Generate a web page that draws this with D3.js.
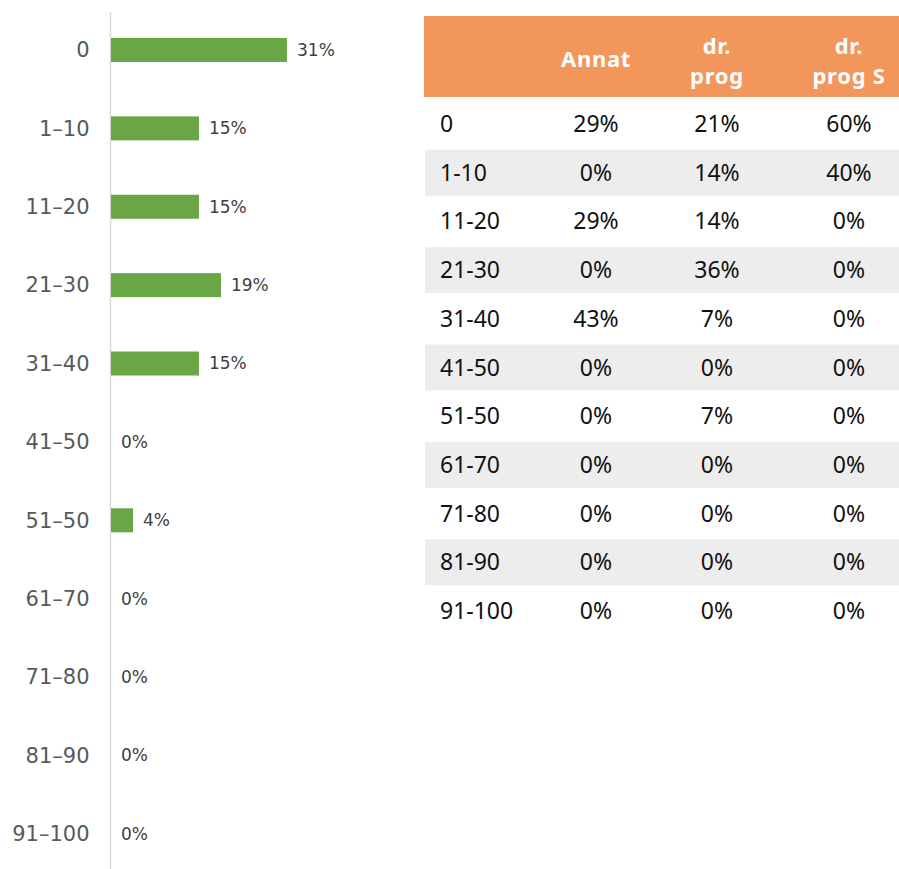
<!DOCTYPE html>
<html>
<head>
<meta charset="utf-8">
<script src="https://cdn.jsdelivr.net/npm/d3@7"></script>
<style>
  body { margin: 0; background: white; }
</style>
</head>
<body>
<div id="chart"></div>
<script>
const w = 899;
const h = 869;

// bar chart data (share of all, %)
const categories = ['0', '1–10', '11–20', '21–30', '31–40', '41–50', '51–50', '61–70', '71–80', '81–90', '91–100'];
const barValues = [30.77, 15.38, 15.38, 19.23, 15.38, 0, 3.85, 0, 0, 0, 0];

// table data (%)
const rowLabels = ['0', '1-10', '11-20', '21-30', '31-40', '41-50', '51-50', '61-70', '71-80', '81-90', '91-100'];
const columns = ['Annat', 'dr. prog', 'dr. prog S'];
const annat = [29, 0, 29, 0, 43, 0, 0, 0, 0, 0, 0];
const drProg = [21, 14, 14, 36, 7, 0, 7, 0, 0, 0, 0];
const drProgS = [60, 40, 0, 0, 0, 0, 0, 0, 0, 0, 0];
const headerLines = [['Annat'], ['dr.', 'prog'], ['dr.', 'prog S']];

const svg = d3.select('#chart')
  .append('svg')
  .attr('width', w)
  .attr('height', h)
  .style('background-color', 'white');

// ---- bar chart ----
const yScale = d3.scalePoint().domain(categories).range([10.8, 873]).padding(0.5);
const xScale = d3.scaleLinear().domain([0, 100]).range([111, 683]);
const barH = 24;
const chartFont = '"DejaVu Sans", sans-serif';

svg.append('line')
  .attr('x1', 110.5).attr('x2', 110.5)
  .attr('y1', 12).attr('y2', h)
  .attr('stroke', '#d9d9d9')
  .attr('stroke-width', 1.5);

const yAxis = d3.axisLeft(yScale).tickSize(0).tickPadding(21);
svg.append('g')
  .attr('transform', 'translate(110.5, 0)')
  .call(yAxis)
  .call(g => g.select('.domain').remove())
  .selectAll('text')
  .attr('font-family', chartFont)
  .attr('font-size', '21px')
  .attr('fill', '#595959');

const barData = categories.map((c, i) => ({cat: c, v: barValues[i]}));

svg.selectAll('.bar')
  .data(barData.filter(d => d.v > 0))
  .enter()
  .append('rect')
  .attr('class', 'bar')
  .attr('x', xScale(0))
  .attr('y', d => yScale(d.cat) - barH / 2)
  .attr('width', d => xScale(d.v) - xScale(0))
  .attr('height', barH)
  .attr('fill', '#6aa646');

svg.selectAll('.bar-label')
  .data(barData)
  .enter()
  .append('text')
  .attr('class', 'bar-label')
  .attr('x', d => xScale(d.v) + 10)
  .attr('y', d => yScale(d.cat))
  .attr('dy', '0.35em')
  .text(d => Math.round(d.v) + '%')
  .attr('font-family', chartFont)
  .attr('font-size', '17px')
  .attr('fill', '#404040');

// ---- table ----
const tableLeft = 424;
const rowY = d3.scalePoint().domain(rowLabels).range([99.65, 635.35]).padding(0.5);
const colX = d3.scaleOrdinal().domain(columns).range([596, 717, 849]);
const tableFont = '"Noto Sans", "Open Sans", sans-serif';

svg.append('rect')
  .attr('x', tableLeft)
  .attr('y', 16)
  .attr('width', w - tableLeft)
  .attr('height', 81)
  .attr('fill', '#f3965c');

// header: one text per line so the lines stay apart
columns.forEach((col, i) => {
  const lines = headerLines[i];
  svg.selectAll('.head-' + i)
    .data(lines)
    .enter()
    .append('text')
    .attr('class', 'head-' + i)
    .attr('x', colX(col))
    .attr('y', (d, j) => lines.length === 1 ? 67 : 54 + j * 30)
    .attr('text-anchor', 'middle')
    .text(d => d)
    .attr('font-family', tableFont)
    .attr('font-weight', 'bold')
    .attr('font-size', '22px')
    .attr('letter-spacing', '0.7px')
    .attr('fill', 'white');
});

svg.selectAll('.stripe')
  .data(rowLabels.filter((d, i) => i % 2 === 1))
  .enter()
  .append('rect')
  .attr('class', 'stripe')
  .attr('x', tableLeft + 1)
  .attr('y', d => rowY(d) - 23)
  .attr('width', w - tableLeft - 1)
  .attr('height', 46)
  .attr('fill', '#ededed');

svg.selectAll('.row-label')
  .data(rowLabels)
  .enter()
  .append('text')
  .attr('class', 'row-label')
  .attr('x', 440)
  .attr('y', d => rowY(d))
  .attr('dy', '0.35em')
  .text(d => d)
  .attr('font-family', tableFont)
  .attr('font-size', '23px')
  .attr('fill', '#111');

const series = [annat, drProg, drProgS];
columns.forEach((col, ci) => {
  svg.selectAll('.cell-' + ci)
    .data(rowLabels.map((r, i) => ({r: r, v: series[ci][i]})))
    .enter()
    .append('text')
    .attr('class', 'cell-' + ci)
    .attr('x', colX(col))
    .attr('y', d => rowY(d.r))
    .attr('dy', '0.35em')
    .attr('text-anchor', 'middle')
    .text(d => d.v + '%')
    .attr('font-family', tableFont)
    .attr('font-size', '23px')
    .attr('fill', '#111');
});
</script>
</body>
</html>
